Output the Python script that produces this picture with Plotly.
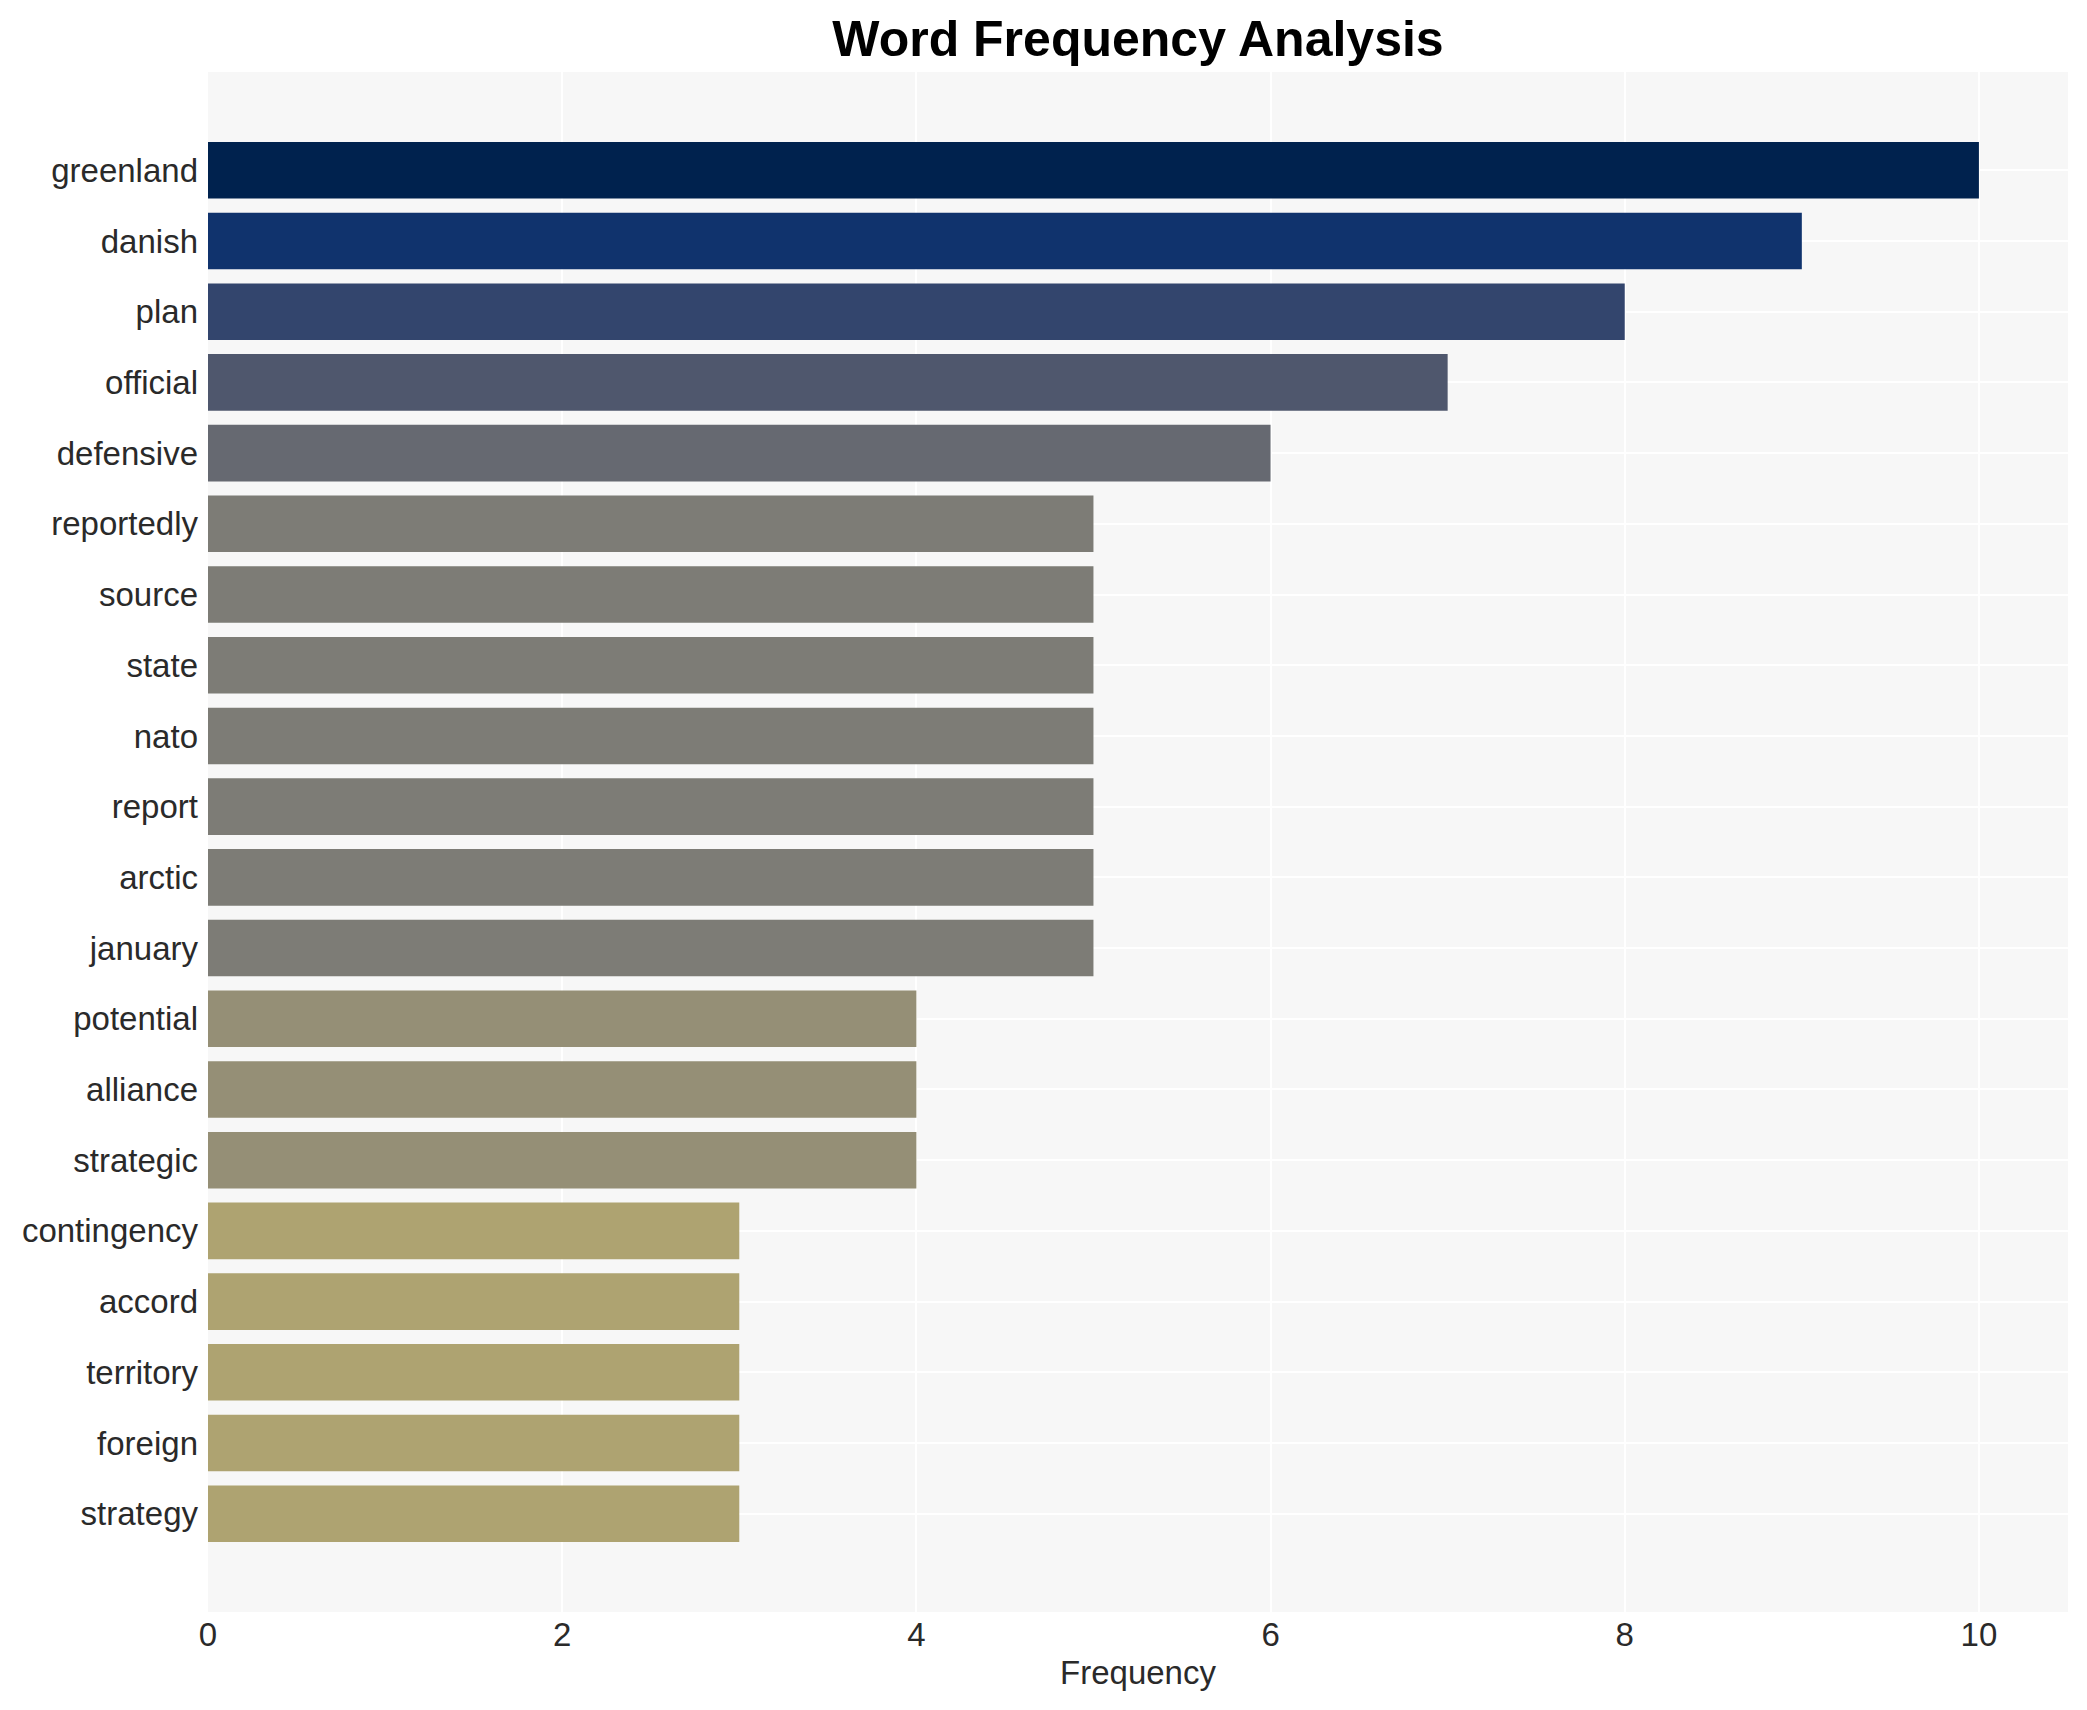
import plotly.graph_objects as go

words = ["greenland", "danish", "plan", "official", "defensive", "reportedly", "source",
         "state", "nato", "report", "arctic", "january", "potential", "alliance",
         "strategic", "contingency", "accord", "territory", "foreign", "strategy"]
counts = [10, 9, 8, 7, 6, 5, 5, 5, 5, 5, 5, 5, 4, 4, 4, 3, 3, 3, 3, 3]
x_ticks = [0, 2, 4, 6, 8, 10]

fig = go.Figure(go.Bar(
    x=counts,
    y=words,
    orientation="h",
    marker=dict(color=counts, colorscale="Cividis", reversescale=True,
                cmin=0, cmax=10, line=dict(width=0)),
    width=0.8,
    showlegend=False,
))

fig.update_layout(
    width=2079,
    height=1702,
    margin=dict(l=200, r=19, t=64, b=98, autoexpand=False),
    paper_bgcolor="white",
    plot_bgcolor="#f7f7f7",
    font=dict(family="Liberation Sans, Arial, sans-serif", size=33, color="#2a2a2a"),
    title=dict(text="<b>Word Frequency Analysis</b>", x=0.5, xref="paper",
               y=1 - 30.5 / 1702, yref="container", xanchor="center", yanchor="middle",
               font=dict(family="Liberation Sans, Arial, sans-serif", size=50, color="black")),
    xaxis=dict(title=dict(text="Frequency", standoff=8, font=dict(size=33)),
               range=[0, 10.503],
               tickvals=x_ticks, showgrid=True, gridcolor="white", gridwidth=2,
               zeroline=False, showline=False, ticks=""),
    yaxis=dict(range=[20.39, -1.39], showgrid=True, gridcolor="white", gridwidth=2,
               zeroline=False, showline=False, ticks="", ticklabelstandoff=9),
)

fig.write_html("out.html")
